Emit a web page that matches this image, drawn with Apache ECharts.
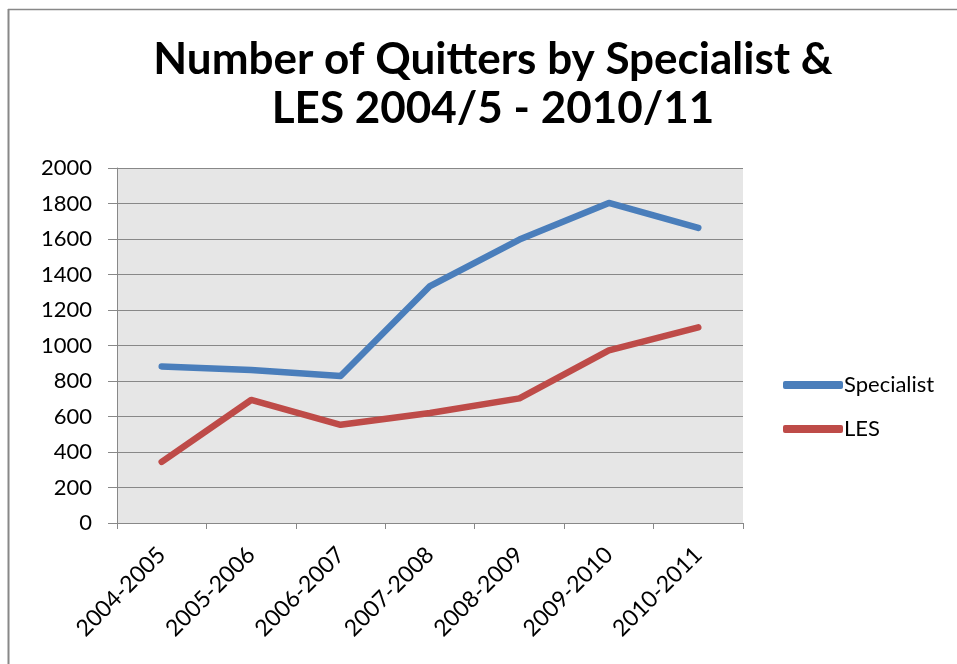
<!DOCTYPE html>
<html>
<head>
<meta charset="utf-8">
<script src="https://cdn.jsdelivr.net/npm/echarts@6/dist/echarts.min.js"></script>
<style>
  html, body { margin: 0; padding: 0; background: #fff; }
  #chart { width: 957px; height: 664px; }
</style>
</head>
<body>
<div id="chart"></div>
<script>
// data
const years = ['2004-2005', '2005-2006', '2006-2007', '2007-2008', '2008-2009', '2009-2010', '2010-2011']
const specialist = [882, 862, 828, 1335, 1597, 1803, 1662]
const les = [344, 693, 553, 620, 702, 973, 1102]

const font = 'Lato, "Open Sans", sans-serif'

const chart = echarts.init(document.getElementById('chart'))
chart.setOption({
  backgroundColor: '#fff',
  animation: false,
  title: {
    text: 'Number of Quitters by Specialist &\nLES 2004/5 - 2010/11',
    left: 488,
    textAlign: 'center',
    top: 30,
    textStyle: { fontFamily: font, fontSize: 44, fontWeight: 'bold', color: '#000', lineHeight: 49 }
  },
  graphic: [
    { type: 'line', shape: { x1: 8.5, y1: 9, x2: 8.5, y2: 664 }, style: { stroke: '#888', lineWidth: 2 } },
    { type: 'line', shape: { x1: 8, y1: 9.5, x2: 957, y2: 9.5 }, style: { stroke: '#888', lineWidth: 1.5 } }
  ],
  legend: {
    orient: 'vertical',
    left: 778,
    top: 369,
    itemWidth: 60,
    itemHeight: 8,
    itemGap: 22,
    icon: 'roundRect',
    data: ['Specialist', 'LES'],
    textStyle: { fontFamily: font, fontSize: 22, color: '#000', padding: [0, 0, 0, -4] }
  },
  grid: { left: 117, right: 214, top: 168, bottom: 141 },
  xAxis: {
    type: 'category',
    data: years,
    boundaryGap: true,
    axisLine: { lineStyle: { color: '#888', width: 1 } },
    axisTick: { show: true, length: 6, lineStyle: { color: '#888' } },
    axisLabel: { rotate: 45, margin: 28, fontFamily: font, fontSize: 23, color: '#000' }
  },
  yAxis: {
    type: 'value',
    min: 0,
    max: 2000,
    interval: 200,
    axisLine: { show: true, lineStyle: { color: '#888' } },
    axisTick: { show: true, length: 9, lineStyle: { color: '#888' } },
    axisLabel: { margin: 25, fontFamily: font, fontSize: 22, color: '#000', formatter: v => String(v) },
    splitLine: { lineStyle: { color: '#888', width: 1 } },
    splitArea: { show: true, areaStyle: { color: ['#e6e6e6', '#e6e6e6'] } }
  },
  series: [
    {
      name: 'Specialist',
      type: 'line',
      data: specialist,
      symbol: 'none',
      color: '#4a7ebb',
      lineStyle: { width: 6.5, cap: 'round', join: 'round' }
    },
    {
      name: 'LES',
      type: 'line',
      data: les,
      symbol: 'none',
      color: '#be4b48',
      lineStyle: { width: 6.5, cap: 'round', join: 'round' }
    }
  ]
})
</script>
</body>
</html>
